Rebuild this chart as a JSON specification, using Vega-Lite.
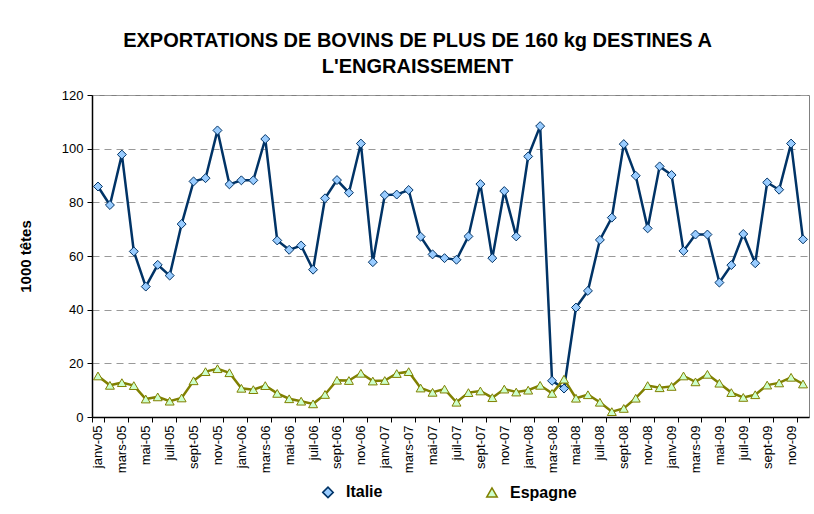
{
  "$schema": "https://vega.github.io/schema/vega-lite/v6.json",
  "width": 717,
  "height": 322,
  "autosize": "none",
  "padding": {"left": 92, "top": 95, "right": 5, "bottom": 97},
  "background": "white",
  "title": {
    "text": ["EXPORTATIONS DE BOVINS DE PLUS DE 160 kg DESTINES A", "L'ENGRAISSEMENT"],
    "anchor": "middle",
    "frame": "group",
    "dx": -33,
    "offset": 12,
    "lineHeight": 26,
    "font": "Liberation Sans",
    "fontSize": 20,
    "fontWeight": "bold",
    "color": "#000000"
  },
  "data": {
    "values": [
      {"mois": "janv-05", "pays": "Italie", "v": 85.9},
      {"mois": "févr-05", "pays": "Italie", "v": 79.0},
      {"mois": "mars-05", "pays": "Italie", "v": 97.8},
      {"mois": "avr-05", "pays": "Italie", "v": 61.7},
      {"mois": "mai-05", "pays": "Italie", "v": 48.6},
      {"mois": "juin-05", "pays": "Italie", "v": 56.7},
      {"mois": "juil-05", "pays": "Italie", "v": 52.7},
      {"mois": "août-05", "pays": "Italie", "v": 71.9},
      {"mois": "sept-05", "pays": "Italie", "v": 87.8},
      {"mois": "oct-05", "pays": "Italie", "v": 89.0},
      {"mois": "nov-05", "pays": "Italie", "v": 106.8},
      {"mois": "déc-05", "pays": "Italie", "v": 86.7},
      {"mois": "janv-06", "pays": "Italie", "v": 88.2},
      {"mois": "févr-06", "pays": "Italie", "v": 88.2},
      {"mois": "mars-06", "pays": "Italie", "v": 103.6},
      {"mois": "avr-06", "pays": "Italie", "v": 65.8},
      {"mois": "mai-06", "pays": "Italie", "v": 62.3},
      {"mois": "juin-06", "pays": "Italie", "v": 63.9},
      {"mois": "juil-06", "pays": "Italie", "v": 54.9},
      {"mois": "août-06", "pays": "Italie", "v": 81.5},
      {"mois": "sept-06", "pays": "Italie", "v": 88.3},
      {"mois": "oct-06", "pays": "Italie", "v": 83.6},
      {"mois": "nov-06", "pays": "Italie", "v": 101.9},
      {"mois": "déc-06", "pays": "Italie", "v": 57.7},
      {"mois": "janv-07", "pays": "Italie", "v": 82.7},
      {"mois": "févr-07", "pays": "Italie", "v": 82.9},
      {"mois": "mars-07", "pays": "Italie", "v": 84.6},
      {"mois": "avr-07", "pays": "Italie", "v": 67.2},
      {"mois": "mai-07", "pays": "Italie", "v": 60.6},
      {"mois": "juin-07", "pays": "Italie", "v": 59.2},
      {"mois": "juil-07", "pays": "Italie", "v": 58.6},
      {"mois": "août-07", "pays": "Italie", "v": 67.3},
      {"mois": "sept-07", "pays": "Italie", "v": 86.8},
      {"mois": "oct-07", "pays": "Italie", "v": 59.2},
      {"mois": "nov-07", "pays": "Italie", "v": 84.2},
      {"mois": "déc-07", "pays": "Italie", "v": 67.3},
      {"mois": "janv-08", "pays": "Italie", "v": 97.1},
      {"mois": "févr-08", "pays": "Italie", "v": 108.4},
      {"mois": "mars-08", "pays": "Italie", "v": 13.5},
      {"mois": "avr-08", "pays": "Italie", "v": 10.6},
      {"mois": "mai-08", "pays": "Italie", "v": 40.8},
      {"mois": "juin-08", "pays": "Italie", "v": 47.0},
      {"mois": "juil-08", "pays": "Italie", "v": 66.0},
      {"mois": "août-08", "pays": "Italie", "v": 74.3},
      {"mois": "sept-08", "pays": "Italie", "v": 101.7},
      {"mois": "oct-08", "pays": "Italie", "v": 89.9},
      {"mois": "nov-08", "pays": "Italie", "v": 70.3},
      {"mois": "déc-08", "pays": "Italie", "v": 93.4},
      {"mois": "janv-09", "pays": "Italie", "v": 90.2},
      {"mois": "févr-09", "pays": "Italie", "v": 61.9},
      {"mois": "mars-09", "pays": "Italie", "v": 68.0},
      {"mois": "avr-09", "pays": "Italie", "v": 68.0},
      {"mois": "mai-09", "pays": "Italie", "v": 50.1},
      {"mois": "juin-09", "pays": "Italie", "v": 56.6},
      {"mois": "juil-09", "pays": "Italie", "v": 68.2},
      {"mois": "août-09", "pays": "Italie", "v": 57.3},
      {"mois": "sept-09", "pays": "Italie", "v": 87.4},
      {"mois": "oct-09", "pays": "Italie", "v": 84.7},
      {"mois": "nov-09", "pays": "Italie", "v": 101.9},
      {"mois": "déc-09", "pays": "Italie", "v": 66.2},
      {"mois": "janv-05", "pays": "Espagne", "v": 15.3},
      {"mois": "févr-05", "pays": "Espagne", "v": 11.8},
      {"mois": "mars-05", "pays": "Espagne", "v": 12.8},
      {"mois": "avr-05", "pays": "Espagne", "v": 11.7},
      {"mois": "mai-05", "pays": "Espagne", "v": 6.7},
      {"mois": "juin-05", "pays": "Espagne", "v": 7.5},
      {"mois": "juil-05", "pays": "Espagne", "v": 5.9},
      {"mois": "août-05", "pays": "Espagne", "v": 7.1},
      {"mois": "sept-05", "pays": "Espagne", "v": 13.5},
      {"mois": "oct-05", "pays": "Espagne", "v": 16.9},
      {"mois": "nov-05", "pays": "Espagne", "v": 18.0},
      {"mois": "déc-05", "pays": "Espagne", "v": 16.5},
      {"mois": "janv-06", "pays": "Espagne", "v": 10.7},
      {"mois": "févr-06", "pays": "Espagne", "v": 10.2},
      {"mois": "mars-06", "pays": "Espagne", "v": 11.7},
      {"mois": "avr-06", "pays": "Espagne", "v": 8.8},
      {"mois": "mai-06", "pays": "Espagne", "v": 6.8},
      {"mois": "juin-06", "pays": "Espagne", "v": 5.9},
      {"mois": "juil-06", "pays": "Espagne", "v": 4.9},
      {"mois": "août-06", "pays": "Espagne", "v": 8.4},
      {"mois": "sept-06", "pays": "Espagne", "v": 13.7},
      {"mois": "oct-06", "pays": "Espagne", "v": 13.6},
      {"mois": "nov-06", "pays": "Espagne", "v": 16.3},
      {"mois": "déc-06", "pays": "Espagne", "v": 13.4},
      {"mois": "janv-07", "pays": "Espagne", "v": 13.6},
      {"mois": "févr-07", "pays": "Espagne", "v": 16.2},
      {"mois": "mars-07", "pays": "Espagne", "v": 16.9},
      {"mois": "avr-07", "pays": "Espagne", "v": 10.8},
      {"mois": "mai-07", "pays": "Espagne", "v": 9.2},
      {"mois": "juin-07", "pays": "Espagne", "v": 10.4},
      {"mois": "juil-07", "pays": "Espagne", "v": 5.5},
      {"mois": "août-07", "pays": "Espagne", "v": 9.1},
      {"mois": "sept-07", "pays": "Espagne", "v": 9.7},
      {"mois": "oct-07", "pays": "Espagne", "v": 7.2},
      {"mois": "nov-07", "pays": "Espagne", "v": 10.4},
      {"mois": "déc-07", "pays": "Espagne", "v": 9.3},
      {"mois": "janv-08", "pays": "Espagne", "v": 10.0},
      {"mois": "févr-08", "pays": "Espagne", "v": 11.8},
      {"mois": "mars-08", "pays": "Espagne", "v": 8.8},
      {"mois": "avr-08", "pays": "Espagne", "v": 14.1},
      {"mois": "mai-08", "pays": "Espagne", "v": 7.0},
      {"mois": "juin-08", "pays": "Espagne", "v": 8.3},
      {"mois": "juil-08", "pays": "Espagne", "v": 5.5},
      {"mois": "août-08", "pays": "Espagne", "v": 2.0},
      {"mois": "sept-08", "pays": "Espagne", "v": 3.2},
      {"mois": "oct-08", "pays": "Espagne", "v": 7.0},
      {"mois": "nov-08", "pays": "Espagne", "v": 11.7},
      {"mois": "déc-08", "pays": "Espagne", "v": 10.9},
      {"mois": "janv-09", "pays": "Espagne", "v": 11.4},
      {"mois": "févr-09", "pays": "Espagne", "v": 15.3},
      {"mois": "mars-09", "pays": "Espagne", "v": 13.1},
      {"mois": "avr-09", "pays": "Espagne", "v": 15.9},
      {"mois": "mai-09", "pays": "Espagne", "v": 12.6},
      {"mois": "juin-09", "pays": "Espagne", "v": 9.1},
      {"mois": "juil-09", "pays": "Espagne", "v": 7.3},
      {"mois": "août-09", "pays": "Espagne", "v": 8.3},
      {"mois": "sept-09", "pays": "Espagne", "v": 11.9},
      {"mois": "oct-09", "pays": "Espagne", "v": 12.7},
      {"mois": "nov-09", "pays": "Espagne", "v": 14.8},
      {"mois": "déc-09", "pays": "Espagne", "v": 12.3}
    ]
  },
  "encoding": {
    "x": {
      "field": "mois",
      "type": "ordinal",
      "sort": null,
      "bandPosition": 0.5,
      "scale": {"type": "band", "paddingInner": 0, "paddingOuter": 0},
      "axis": {
        "title": null,
        "values": ["janv-05","mars-05","mai-05","juil-05","sept-05","nov-05","janv-06","mars-06","mai-06","juil-06","sept-06","nov-06","janv-07","mars-07","mai-07","juil-07","sept-07","nov-07","janv-08","mars-08","mai-08","juil-08","sept-08","nov-08","janv-09","mars-09","mai-09","juil-09","sept-09","nov-09"],
        "tickBand": "extent",
        "labelAngle": -90,
        "labelFont": "Liberation Sans",
        "labelFontSize": 13,
        "labelColor": "#000000",
        "labelPadding": 3,
        "tickColor": "#000000",
        "tickSize": 5,
        "domainColor": "#000000",
        "domainWidth": 1.5,
        "grid": false
      }
    },
    "y": {
      "field": "v",
      "type": "quantitative",
      "scale": {"domain": [0, 120], "nice": false},
      "axis": {
        "title": "1000 têtes",
        "titleFont": "Liberation Sans",
        "titleFontSize": 15,
        "titleFontWeight": "bold",
        "titleColor": "#000000",
        "titlePadding": 28,
        "values": [0, 20, 40, 60, 80, 100, 120],
        "labelFont": "Liberation Sans",
        "labelFontSize": 13,
        "labelColor": "#000000",
        "labelPadding": 4,
        "tickColor": "#000000",
        "tickSize": 5,
        "domainColor": "#000000",
        "domainWidth": 1.5,
        "grid": true,
        "gridColor": "#999999",
        "gridDash": [7, 5],
        "gridWidth": 1
      }
    }
  },
  "layer": [
    {
      "mark": {"type": "line", "strokeWidth": 2.5},
      "encoding": {
        "color": {
          "field": "pays",
          "type": "nominal",
          "scale": {"domain": ["Italie", "Espagne"], "range": ["#003366", "#808000"]}
        }
      }
    },
    {
      "mark": {"type": "point", "filled": false, "strokeWidth": 1, "opacity": 1},
      "encoding": {
        "shape": {
          "field": "pays",
          "type": "nominal",
          "scale": {"domain": ["Italie", "Espagne"], "range": ["diamond", "triangle-up"]}
        },
        "fill": {
          "field": "pays",
          "type": "nominal",
          "scale": {"domain": ["Italie", "Espagne"], "range": ["#99CCFF", "#CCFFCC"]}
        },
        "stroke": {
          "field": "pays",
          "type": "nominal",
          "scale": {"domain": ["Italie", "Espagne"], "range": ["#003366", "#808000"]}
        },
        "size": {"value": 80}
      }
    }
  ],
  "resolve": {"legend": {"color": "shared", "shape": "shared", "fill": "shared", "stroke": "shared"}},
  "config": {
    "view": {"stroke": "#808080", "strokeWidth": 1},
    "font": "Liberation Sans",
    "legend": {
      "title": null,
      "orient": "none",
      "direction": "horizontal",
      "legendX": 228,
      "legendY": 389,
      "columnPadding": 100,
      "symbolSize": 110,
      "symbolStrokeWidth": 1.5,
      "labelFont": "Liberation Sans",
      "labelFontSize": 16,
      "labelFontWeight": "bold",
      "labelColor": "#000000",
      "labelOffset": 10
    }
  }
}
